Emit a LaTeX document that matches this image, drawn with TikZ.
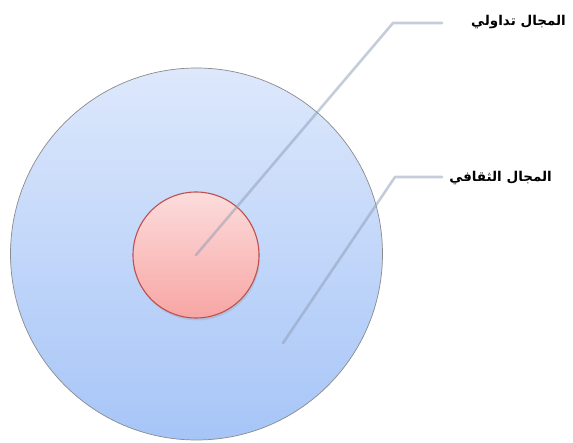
\documentclass[tikz,border=0pt]{standalone}
\usepackage{fontspec}
\TeXXeTstate=1
\newfontfamily\arabicfont[Script=Arabic]{DejaVu Sans}
\usetikzlibrary{shadows}
\definecolor{outertop}{HTML}{DDE8FC}
\definecolor{outerbot}{HTML}{A6C5F7}
\definecolor{outerdraw}{HTML}{8A8A8A}
\definecolor{innertop}{HTML}{FCDCDC}
\definecolor{innerbot}{HTML}{F7A6A4}
\definecolor{innerdraw}{HTML}{C0504D}
\definecolor{leadcol}{HTML}{8E9BB5}
\tikzset{
  outerdisc/.style={circle, inner sep=0pt, minimum size=372pt, draw=outerdraw, line width=0.7pt, top color=outertop, bottom color=outerbot},
  innerdisc/.style={circle, inner sep=0pt, minimum size=126pt, draw=innerdraw, line width=1.1pt, top color=innertop, bottom color=innerbot, drop shadow={opacity=0.2, shadow xshift=1pt, shadow yshift=-2.5pt}},
  leader/.style={draw=leadcol, draw opacity=0.5, line width=2.6pt, line join=round, line cap=round},
  lbl/.style={anchor=east, inner sep=0pt, font=\arabicfont\bfseries\fontsize{13.5}{16}\selectfont}
}
\begin{document}
\begin{tikzpicture}[x=1pt,y=-1pt]
\useasboundingbox (0,0) rectangle (573,443);
\node[outerdisc] (outer) at (196.5,254) {};
\node[innerdisc] (inner) at (196,255) {};
\coordinate (e1) at (393,23);
\coordinate (f1) at (442,23);
\coordinate (s2) at (283,343);
\coordinate (e2) at (395,177);
\coordinate (f2) at (442,177);
\node[lbl] (l1) at (566,22) {\beginR المجال تداولي\endR};
\node[lbl] (l2) at (552,178) {\beginR المجال الثقافي\endR};
\draw[leader] (inner.center) -- (e1) -- (f1);
\draw[leader] (s2) -- (e2) -- (f2);
\end{tikzpicture}
\end{document}
